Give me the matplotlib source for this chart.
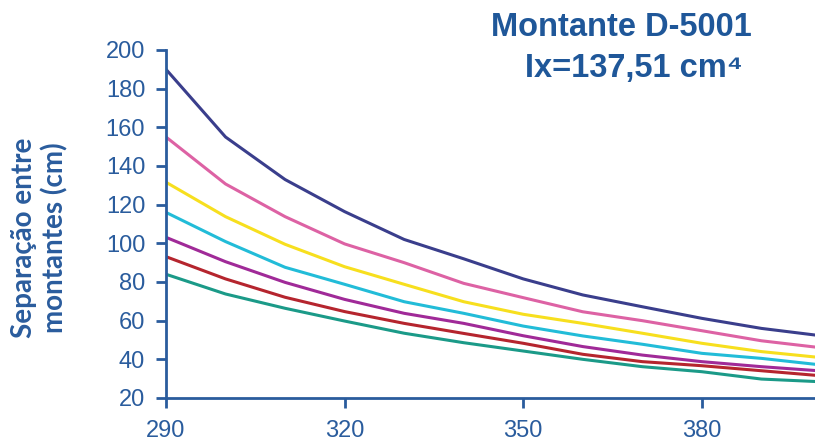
import matplotlib
matplotlib.use('Agg')
import matplotlib.pyplot as plt

# Data
x_vals = [290, 300, 310, 320, 330, 340, 350, 360, 370, 380, 390, 400]
serie_1 = [190, 155, 133, 116.4, 102, 92, 81.6, 73.3, 67.2, 61.2, 56, 52.2]
serie_2 = [155, 130.7, 113.8, 99.7, 90, 79.3, 71.9, 64.6, 60, 54.8, 49.6, 46]
serie_3 = [131.6, 113.8, 99.5, 87.9, 78.8, 69.8, 63.3, 58.6, 53.5, 48.3, 44, 40.9]
serie_4 = [116, 100.9, 87.6, 78.8, 69.8, 63.8, 57.2, 52.1, 47.8, 43.1, 40.5, 37.1]
serie_5 = [103.1, 90.5, 79.8, 71, 63.8, 58.6, 52.2, 46.6, 42.2, 38.8, 36.2, 34]
serie_6 = [93.1, 81.6, 72.1, 64.7, 58.6, 53.4, 48.3, 42.6, 38.8, 36.7, 34.1, 31.5]
serie_7 = [84, 73.8, 66.4, 59.8, 53.5, 48.6, 44.3, 40, 36.2, 33.6, 29.8, 28.4]
series = [serie_1, serie_2, serie_3, serie_4, serie_5, serie_6, serie_7]
colors = ['#3A3E8C', '#DD62A4', '#F7DF1E', '#22BCD8', '#A02A98', '#B5252E', '#1B9A88']

x_ticks = [290, 320, 350, 380]
y_ticks = list(range(20, 201, 20))

blue = '#2A5C9D'
plt.rcParams['font.family'] = ['Liberation Sans', 'DejaVu Sans']

fig = plt.figure(figsize=(8.15, 4.45), dpi=100)
ax = fig.add_axes([166 / 815, 1 - 398 / 445, 1 - 166 / 815, (398 - 50) / 445])

for ys, c in zip(series, colors):
    ax.plot(x_vals, ys, color=c, linewidth=2.2, solid_joinstyle='round')

ax.set_xlim(290, 399)
ax.set_ylim(20, 200)
ax.set_xticks(x_ticks)
ax.set_yticks(y_ticks)

for side in ('top', 'right'):
    ax.spines[side].set_visible(False)
for side in ('left', 'bottom'):
    ax.spines[side].set_color(blue)
    ax.spines[side].set_linewidth(2.0)

ax.tick_params(axis='both', colors=blue, labelcolor=blue, width=2.0, length=7,
               labelsize=17, direction='out')
ax.tick_params(axis='x', pad=9)
ax.tick_params(axis='y', pad=8)

# Axis title
fig.text(40 / 815, 1 - 238 / 445, 'Separação entre\nmontantes (cm)', rotation=90,
         ha='center', va='center', multialignment='center', color=blue,
         fontsize=20, fontweight='bold', family=['Lato', 'DejaVu Sans'],
         linespacing=1.2)

# Chart title
fig.text(621 / 815, 1 - 27 / 445, 'Montante D-5001', ha='center', va='center',
         color='#1F5799', fontsize=23.5, fontweight='bold')
fig.text(634 / 815, 1 - 68 / 445, 'Ix=137,51 cm\u2074', ha='center', va='center',
         color='#1F5799', fontsize=23.5, fontweight='bold')

fig.savefig('out.png', dpi=100)
